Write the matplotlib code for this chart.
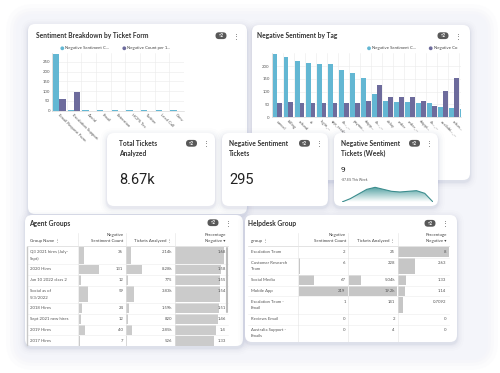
import matplotlib
matplotlib.use('Agg')
import matplotlib.pyplot as plt
from matplotlib.patches import FancyBboxPatch, Rectangle, Circle
from matplotlib.colors import LinearSegmentedColormap
import numpy as np

plt.rcParams['font.family'] = ['Lato', 'DejaVu Sans']

W, H = 500, 373

# ---------------- data ----------------
form_categories = ["Email Request Form", "Escalation Support", "Avoid", "Email", "Extension",
                   "HCPS Tec", "Twitter", "Lead Call", "Conv"]
form_neg_sentiment = [291, 3, 2, 3, 2, 2, 2, 2, 2]
form_neg_count = [59, 95, 1, 1, 1, 1, 1, 1, 1]
form_yticks = [0, 50, 100, 150, 200, 250]

tag_categories = ["cancel", "billing", "refund", "ui", "login_...", "app_crash", "ch..._...",
                  "payme...", "shipp...", "ch..._...", "delay", "order", "order_...",
                  "shippi...", "ch..._...", "availabi..._...", "refun...", "other"]
tag_neg_sentiment = [247, 236, 219, 211, 207, 207, 183, 173, 155, 92, 64, 59, 59, 57, 54, 42, 36, 31]
tag_neg_count = [57, 58, 57, 57, 55, 55, 57, 57, 64, 126, 78, 80, 80, 64, 46, 101, 152, 60]
tag_yticks = [0, 50, 100, 150, 200]

legend_labels = ["Negative Sentiment C...", "Negative Count per 1..."]
legend_labels_tag = ["Negative Sentiment C...", "Negative Co"]

kpi_titles = ["Total Tickets\nAnalyzed", "Negative Sentiment\nTickets", "Negative Sentiment\nTickets (Week)"]
kpi_values = ["8.67k", "295", "9"]
week_change = "-87.8% This Week"
week_series = [0, 2.5, 6, 9.5, 11, 9.5, 8, 7.5, 8, 8.5, 6.5, 0]

agent_headers = ["Group Name \u22ee", "Negative\nSentiment Count", "Tickets Analyzed \u22ee", "Percentage\nNegative \u25be"]
agent_names = ["Q3 2021 hires (July-\nSept)", "2020 Hires", "Jan 10 2022 class 2", "Social as of\n5/3/2022",
               "2018 Hires", "Sept 2021 new hires", "2019 Hires", "2017 Hires"]
agent_neg = [36, 131, 12, 59, 24, 12, 40, 7]
agent_tickets = [2140, 8280, 775, 3830, 1590, 820, 2850, 526]
agent_tickets_lbl = ["2.14k", "8.28k", "775", "3.83k", "1.59k", "820", "2.85k", "526"]
agent_pct = [1.68, 1.58, 1.55, 1.54, 1.51, 1.46, 1.4, 1.33]
agent_col_max = [300, 25000, 1.82]

help_headers = ["group \u22ee", "Negative\nSentiment Count", "Tickets Analyzed \u22ee", "Percentage\nNegative \u25be"]
help_names = ["Escalation Team", "Customer Research\nTeam", "Social Media", "Mobile App",
              "Escalation Team -\nEmail", "Reviews Email", "Australia Support -\nEmails"]
help_neg = [2, 6, 67, 219, 1, 0, 0]
help_tickets = [25, 228, 5040, 19200, 141, 2, 4]
help_tickets_lbl = ["25", "228", "5.04k", "19.2k", "141", "2", "4"]
help_pct = [8, 2.63, 1.33, 1.14, 0.7092, 0, 0]
help_col_max = [219, 19200, 8]

C_LIGHT = '#63b7d3'
C_DARK = '#6d6b9c'
TXT = '#333333'

fig = plt.figure(figsize=(W / 100, H / 100), dpi=100)
fig.patch.set_facecolor('white')


def fax(x0, y0, x1, y1, z):
    return fig.add_axes([x0 / W, 1 - y1 / H, (x1 - x0) / W, (y1 - y0) / H], zorder=z)


def full_ax(z):
    a = fax(0, 0, W, H, z)
    a.set_xlim(0, W)
    a.set_ylim(H, 0)
    a.axis('off')
    a.patch.set_alpha(0)
    return a


def card(ax, x0, y0, x1, y1, r=7):
    for p, a in [(7, 0.012), (5, 0.018), (3.5, 0.025), (2, 0.035), (1, 0.05)]:
        ax.add_patch(FancyBboxPatch((x0 - p, y0 - p + 2), (x1 - x0) + 2 * p, (y1 - y0) + 2 * p,
                                    boxstyle=f"round,pad=0,rounding_size={r + p}",
                                    fc='#5a6499', ec='none', alpha=a))
    cp = FancyBboxPatch((x0, y0), x1 - x0, y1 - y0, boxstyle=f"round,pad=0,rounding_size={r}",
                        fc='white', ec='none')
    ax.add_patch(cp)
    return cp


def badge(ax, x, y):
    ax.add_patch(FancyBboxPatch((x, y - 3.4), 11, 6.8, boxstyle="round,pad=0,rounding_size=3.4",
                                fc='#585858', ec='none'))
    ax.text(x + 5.5, y, "\u25bf2", color='white', fontsize=3.3, ha='center', va='center', fontweight='bold')
    ax.text(x + 20.5, y, "\u22ee", color='#555', fontsize=5, ha='center', va='center',
            family='DejaVu Sans')


def legend(ax, x, y, labels, colors):
    for (xx, lab), col in zip(zip(x, labels), colors):
        ax.add_patch(Circle((xx, y), 1.9, fc=col, ec='none'))
        ax.text(xx + 3, y, lab, fontsize=3.1, color='#444', ha='left', va='center')


# ---------------- background layer ----------------
bg = full_ax(0)
for p, a in [(10, 0.25), (6, 0.35), (3, 0.5), (0, 1.0)]:
    bg.add_patch(FancyBboxPatch((16 - p, 14 - p), 472 + 2 * p, 346 + 2 * p,
                                boxstyle=f"round,pad=0,rounding_size={18 + p}",
                                fc='#f4f5fa', ec='none', alpha=a))
card(bg, 28, 24, 247, 214)
card(bg, 252, 25, 470, 180)
bg.text(36, 35.7, "Sentiment Breakdown by Ticket Form", fontsize=4.8, fontweight='bold', color=TXT,
        ha='left', va='center')
badge(bg, 215.5, 35.7)
bg.text(257, 35.7, "Negative Sentiment by Tag", fontsize=4.8, fontweight='bold', color=TXT,
        ha='left', va='center')
badge(bg, 437.5, 35.7)
legend(bg, [62.3, 124.3], 48.3, legend_labels, [C_LIGHT, C_DARK])
legend(bg, [369, 430.7], 48.3, legend_labels_tag, [C_LIGHT, C_DARK])


def style_bar_ax(ax, n, yticks, ylim):
    ax.set_facecolor('none')
    ax.set_ylim(*ylim)
    ax.set_yticks(yticks)
    ax.set_xticks(range(n))
    ax.set_xticks(np.arange(n + 1) - 0.5, minor=True)
    ax.grid(True, axis='x', which='minor', color='#ebebeb', lw=0.4)
    ax.grid(True, axis='y', which='major', color='#ebebeb', lw=0.4)
    ax.set_axisbelow(True)
    for s in ['top', 'right']:
        ax.spines[s].set_visible(False)
    ax.spines['left'].set_color('#d0d0d0')
    ax.spines['bottom'].set_color('#d0d0d0')
    ax.spines['left'].set_linewidth(0.4)
    ax.spines['bottom'].set_linewidth(0.4)
    ax.tick_params(axis='both', which='both', length=0, labelsize=3.1, labelcolor='#555', pad=1.5)


# ---------------- chart 1 ----------------
ax1 = fax(52, 53.2, 184, 110.7, 1)
x1 = np.arange(len(form_categories))
ax1.bar(x1 - 0.215, form_neg_sentiment, 0.43, color=C_LIGHT)
ax1.bar(x1 + 0.215, form_neg_count, 0.43, color=C_DARK)
ax1.set_xlim(-0.5, len(form_categories) - 0.5)
style_bar_ax(ax1, len(form_categories), form_yticks, (0, 295))
ax1.set_xticklabels(form_categories, rotation=-45, ha='left', va='top', rotation_mode='anchor')

# ---------------- chart 2 ----------------
ax2 = fax(271.7, 53.2, 461, 117.3, 1)
x2 = np.arange(len(tag_categories))
ax2.bar(x2 - 0.227, tag_neg_sentiment, 0.454, color=C_LIGHT)
ax2.bar(x2 + 0.227, tag_neg_count, 0.454, color=C_DARK)
style_bar_ax(ax2, len(tag_categories), tag_yticks, (0, 250))
ax2.set_xlim(-0.527, 16.68)
ax2.set_xticklabels(tag_categories, rotation=-45, ha='left', va='top', rotation_mode='anchor')

# ---------------- foreground layer ----------------
fg = full_ax(2)

kpi_boxes = [(107, 133, 215, 206), (222, 133, 328, 206), (334, 133, 438, 206)]
for (x0, y0, x1_, y1), title in zip(kpi_boxes, kpi_titles):
    card(fg, x0, y0, x1_, y1)
    for k, line in enumerate(title.split('\n')):
        fg.text(x0 + 12 if x0 == 107 else x0 + 7, 143.3 + 10 * k, line, fontsize=4.8, fontweight='bold',
                color=TXT, ha='left', va='center')
    badge(fg, x1_ - 29, 143.3)

fg.text(119, 180, kpi_values[0], fontsize=10.5, color='#222', ha='left', va='center', family='Roboto')
fg.text(229, 180, kpi_values[1], fontsize=10.5, color='#222', ha='left', va='center', family='Roboto')
fg.text(341, 170, kpi_values[2], fontsize=6, color='#222', ha='left', va='center', family='Roboto')
fg.text(341, 180, week_change, fontsize=2.3, color='#555', ha='left', va='center')


def draw_table(ax, cp, x0c, title, headers, col_edges, names, vals, lbls, maxes, bar_color):
    ax.text(x0c, 223.3, title, fontsize=4.8, fontweight='bold', color=TXT, ha='left', va='center')
    for c, htxt in enumerate(headers):
        lines = htxt.split('\n')
        for k, line in enumerate(lines):
            yy = 241 - 6 * (len(lines) - 1 - k)
            if c == 0:
                ax.text(col_edges[0] + 2.5, yy, line, fontsize=3.2, color='#444', ha='left', va='center')
            else:
                ax.text(col_edges[c + 1] - 2.5, yy, line, fontsize=3.2, color='#444', ha='right', va='center')
    ax.plot([col_edges[0], col_edges[-1]], [246.2, 246.2], color='#d8d8d8', lw=0.5, clip_path=cp)
    y = 246.7
    for r, name in enumerate(names):
        nl = name.count('\n') + 1
        h = 10.8 + 6.5 * (nl - 1)
        for c in range(3):
            xa, xb = col_edges[c + 1], col_edges[c + 2]
            frac = min(vals[c][r] / maxes[c], 1.0)
            if frac > 0:
                rct = Rectangle((xa + 0.4, y + 0.5), (xb - xa - 0.8) * frac, h - 1, fc=bar_color, ec='none')
                ax.add_patch(rct)
                rct.set_clip_path(cp)
            t = ax.text(xb - 2.7, y + 5.3, lbls[c][r], fontsize=3.1, color='#555', ha='right', va='center')
            t.set_clip_path(cp)
        for k, line in enumerate(name.split('\n')):
            t = ax.text(col_edges[0] + 2.5, y + 5.3 + 6.6 * k, line, fontsize=3.1, color='#555',
                        ha='left', va='center')
            t.set_clip_path(cp)
        y += h
        ax.plot([col_edges[0], col_edges[-1]], [y, y], color='#ececec', lw=0.4, clip_path=cp)
    for xe in col_edges[1:-1]:
        ax.plot([xe, xe], [233, y], color='#e3e3e3', lw=0.4, clip_path=cp)
    return y


def fmt_pct(v):
    return f"{v:g}"


cp_a = card(fg, 25, 215, 243, 346)
badge(fg, 207.5, 222.7)
agent_lbls = [[str(v) for v in agent_neg], agent_tickets_lbl, [fmt_pct(v) for v in agent_pct]]
draw_table(fg, cp_a, 29, "Agent Groups", agent_headers, [27, 78.3, 126, 175, 228.3], agent_names,
           [agent_neg, agent_tickets, agent_pct], agent_lbls, agent_col_max, '#cbcbcb')
fg.plot([26.6, 26.6], [247, 345], color='#c8c8c8', lw=1.0)
fg.plot([227, 227], [248, 312], color='#bcbcbc', lw=1.5, solid_capstyle='round')

cp_h = card(fg, 245, 215, 457, 342)
badge(fg, 424.5, 223.3)
help_lbls = [[str(v) for v in help_neg], help_tickets_lbl, [fmt_pct(v) for v in help_pct]]
draw_table(fg, cp_h, 248.3, "Helpdesk Group", help_headers, [248.3, 298.3, 348.3, 397.7, 449], help_names,
           [help_neg, help_tickets, help_pct], help_lbls, help_col_max, '#c6c6c6')

# ---------------- sparkline ----------------
axs = fax(342, 186, 433, 202, 3)
axs.set_facecolor('none')
axs.axis('off')
xs = np.arange(len(week_series))
axs.set_xlim(0, len(week_series) - 1)
axs.set_ylim(0, 12)
poly = axs.fill_between(xs, week_series, 0, color='none')
grad = np.linspace(1, 0, 100).reshape(-1, 1)
cmap = LinearSegmentedColormap.from_list('g', ['#ffffff', '#4a9c9d'])
im = axs.imshow(grad, extent=[0, len(week_series) - 1, 0, 12], aspect='auto', cmap=cmap,
                origin='upper', vmin=0, vmax=1)
im.set_clip_path(poly.get_paths()[0], transform=axs.transData)
axs.plot(xs, week_series, color='#3c8d8e', lw=0.8)

fig.savefig('out.png', dpi=100, facecolor='white')
